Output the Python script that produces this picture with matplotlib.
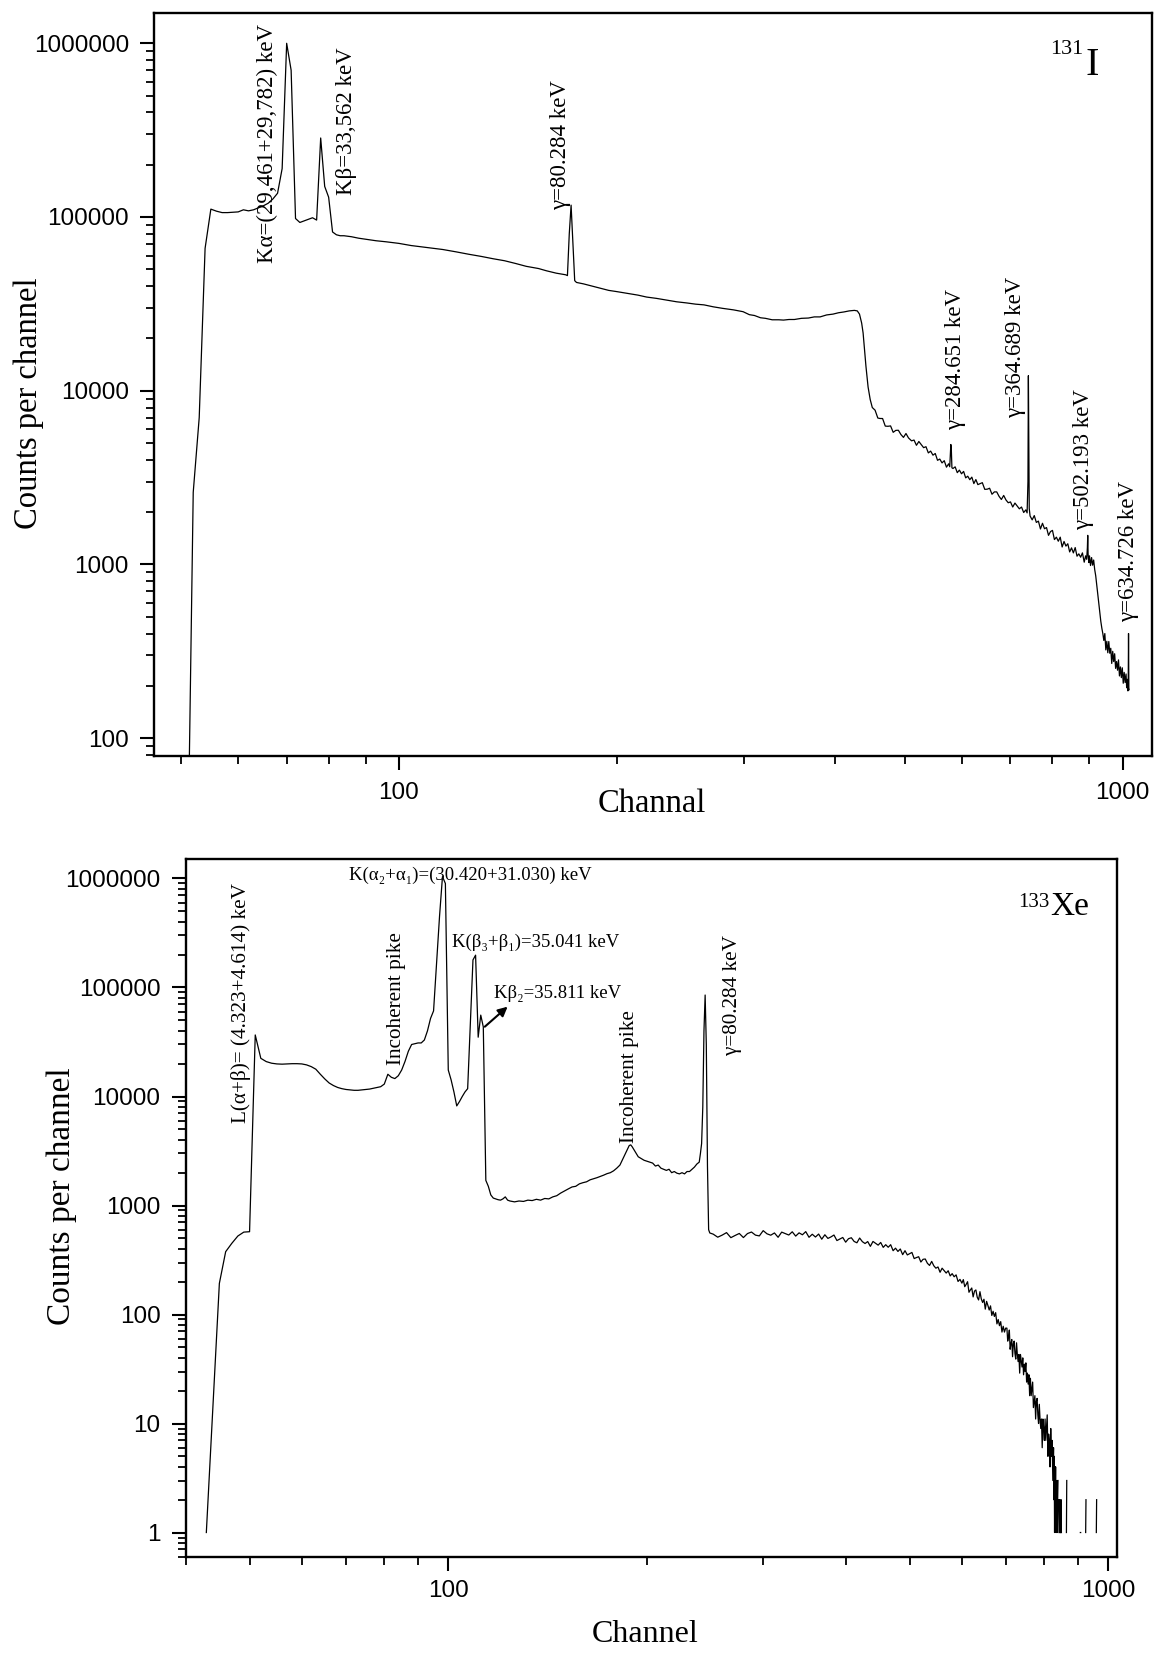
import numpy as np
import matplotlib
matplotlib.use("Agg")
import matplotlib.pyplot as plt
from matplotlib.ticker import LogLocator, FuncFormatter, NullFormatter, FixedLocator

# ---------------- data: 131I spectrum (top) ----------------
top_channel = [51, 52, 53, 54, 55, 56, 57, 58, 59, 60, 61, 62, 63, 64, 65, 66, 67, 68, 69, 70,
               71, 72, 73, 74, 75, 76, 77, 78, 79, 80, 81, 82, 83, 84, 86, 88, 90, 93, 96, 100,
               104, 110, 115, 120, 125, 130, 135, 140, 145, 150, 156, 160, 165, 170, 171, 172, 173, 174, 175, 176,
               180, 185, 190, 195, 200, 207, 214, 220, 227, 234, 242, 250, 257, 264, 272, 280, 290, 299, 305, 310,
               316, 321, 328, 335, 340, 346, 352, 360, 368, 375, 382, 390, 398, 405, 412, 419, 426, 430, 433, 436,
               438, 440, 442, 445, 448, 451, 455, 459, 462, 466, 470, 474, 478, 482, 486, 490, 494, 498, 502, 506,
               511, 515, 519, 523, 527, 531, 535, 539, 543, 547, 551, 555, 559, 563, 567, 571, 575, 577, 578, 579,
               580, 581, 583, 587, 591, 595, 599, 603, 607, 611, 615, 619, 623, 627, 631, 636, 640, 645, 650, 655,
               660, 665, 670, 675, 680, 685, 690, 695, 700, 705, 710, 715, 720, 725, 730, 735, 738, 740, 741, 742,
               743, 745, 750, 755, 760, 765, 770, 775, 780, 785, 790, 795, 800, 805, 810, 815, 820, 825, 830, 835,
               840, 845, 850, 855, 860, 865, 870, 875, 880, 885, 889, 892, 894, 895, 896, 898, 900, 903, 906, 909,
               912, 915, 918, 921, 924, 927, 930, 933, 936, 939, 942, 945, 948, 951, 954, 957, 960, 963, 966, 969,
               972, 975, 978, 981, 984, 987, 990, 993, 996, 999, 1002, 1005, 1008, 1011, 1013, 1015, 1017, 1018, 1019, 1020,
               1021]
top_counts = [10, 2600, 7000, 66000, 111000, 108000, 106000, 106000, 106500, 107000, 110000, 108500, 110000, 113000, 116000, 120000, 127000, 137000, 190000, 1000000,
              700000, 98000, 93000, 95000, 97000, 99000, 96000, 285000, 150000, 130000, 82000, 79000, 78000, 78000, 77000, 75500, 74500, 73000, 72000, 70500,
              68500, 66500, 65000, 63000, 61000, 59300, 57500, 56000, 54000, 52000, 50500, 49000, 47500, 46500, 46000, 80000, 117000, 70000, 43000, 42000,
              41200, 40000, 38900, 37800, 37200, 36300, 35500, 34600, 34000, 33300, 32500, 32000, 31500, 31200, 30400, 29800, 29200, 28500, 27400, 27100,
              26300, 26100, 25600, 25600, 25500, 25700, 25700, 26100, 26200, 26600, 26600, 27300, 27600, 28100, 28400, 28800, 29000, 28800, 27600, 24500,
              21500, 17200, 13800, 10500, 8900, 8000, 7725, 6960, 6920, 6915, 6255, 6240, 6270, 5760, 5910, 5920, 5595, 5385, 5670, 5350,
              5145, 5200, 4850, 5100, 4900, 4700, 4760, 4385, 4490, 4255, 4350, 3975, 4040, 3840, 3955, 3630, 3795, 3650, 4200, 4900,
              4500, 3600, 3565, 3645, 3375, 3490, 3325, 3430, 3150, 3220, 3075, 3180, 2920, 3080, 2880, 2920, 2955, 2705, 2710, 2745,
              2535, 2615, 2615, 2465, 2365, 2495, 2350, 2265, 2290, 2140, 2255, 2170, 2090, 2140, 1990, 2060, 1980, 3000, 12200, 5000,
              2100, 1900, 1805, 1910, 1745, 1775, 1600, 1725, 1605, 1630, 1470, 1545, 1570, 1390, 1435, 1360, 1435, 1260, 1355, 1275,
              1315, 1180, 1245, 1165, 1250, 1115, 1150, 1100, 1165, 1030, 1120, 1070, 1250, 1470, 1150, 1025, 1120, 985, 1095, 990,
              1060, 935, 860, 760, 680, 590, 520, 470, 430, 400, 365, 400, 322, 361, 310, 360, 308, 329, 269, 316,
              276, 306, 252, 276, 246, 282, 228, 257, 223, 254, 207, 239, 209, 234, 195, 218, 187, 200, 400, 195,
              190]

# ---------------- data: 133Xe spectrum (bottom) ----------------
bottom_channel = [43, 44, 45, 46, 47, 48, 49, 50, 51, 52, 53, 54, 55, 56, 57, 58, 59, 60, 61, 62,
                  63, 64, 65, 66, 67, 68, 69, 70, 71, 72, 73, 74, 75, 76, 77, 78, 79, 80, 81, 82,
                  83, 84, 85, 86, 87, 88, 89, 90, 91, 92, 93, 94, 95, 96, 97, 98, 99, 100, 101, 102,
                  103, 104, 105, 106, 107, 108, 109, 110, 111, 112, 113, 114, 115, 116, 117, 118, 119, 120, 121, 122,
                  123, 124, 126, 128, 130, 132, 134, 136, 138, 140, 142, 144, 146, 148, 150, 152, 154, 156, 158, 160,
                  162, 164, 166, 168, 170, 172, 174, 176, 178, 180, 182, 184, 186, 188, 189, 190, 192, 194, 196, 198,
                  200, 202, 204, 206, 208, 210, 212, 214, 216, 218, 220, 222, 224, 226, 228, 230, 232, 234, 236, 238,
                  240, 241, 242, 243, 244, 245, 246, 247, 248, 249,
                  252, 256, 260, 264, 268, 272, 276, 280, 284, 288, 292, 296, 300, 304, 308, 312, 316, 320, 324, 328,
                  332, 336, 340, 344, 348, 352, 356, 360, 364, 368, 372, 376, 380, 384, 388, 392, 396, 400, 404, 408,
                  412, 416, 420, 424, 428, 432, 436, 440, 444, 448, 452, 456, 460, 464, 468, 472, 476, 480, 484, 488,
                  492, 496, 500, 504, 508, 512, 516, 520, 524, 528, 532, 536, 540, 544, 548, 552, 556, 560, 564, 568,
                  572, 576, 580, 584, 588, 592, 596, 600, 603, 606, 609, 612, 615, 618, 621, 624, 627, 630, 633, 636,
                  639, 642, 645, 648, 651, 654, 657, 660, 663, 666, 669, 672, 675, 678, 681, 684, 687, 690, 693, 696,
                  699, 702, 704, 706, 708, 710, 712, 714, 716, 718, 720, 722, 724, 726, 728, 730, 732, 734, 736, 738,
                  740, 742, 744, 746, 748, 750, 752, 754, 756, 758, 760, 762, 764, 766, 768, 770, 772, 774, 776, 778,
                  780, 782, 784, 786, 788, 790, 792, 794, 796, 798, 800, 802, 804, 806, 808, 810, 812, 814, 816, 818,
                  820, 822, 824, 826, 827, 828, 829, 830, 831, 832, 833, 834, 835, 836, 837, 838, 839, 840, 841, 842,
                  843, 844, 845, 846, 847, 848, 849, 850, 864, 865, 866, 906, 907, 908, 909, 923, 924, 925, 926, 958,
                  959, 960, 961]
bottom_counts = [1, 14, 193, 377, 450, 525, 570, 575, 36700, 22400, 20900, 20200, 19900, 19800, 19900, 20000, 20000, 19900, 19500, 18800,
                 17800, 16000, 14500, 13300, 12600, 12100, 11800, 11600, 11500, 11400, 11400, 11500, 11600, 11700, 11900, 12100, 12300, 13000, 16000, 15000,
                 14600, 15500, 17500, 21000, 26000, 30000, 30500, 31000, 31000, 33000, 40000, 52000, 61000, 166000, 450000, 1040000, 900000, 17500, 14200, 11000,
                 8200, 9000, 10000, 11000, 11800, 47000, 179000, 198000, 35000, 55800, 43500, 1700, 1500, 1250, 1170, 1150, 1130, 1120, 1150, 1200,
                 1120, 1100, 1080, 1100, 1090, 1120, 1110, 1140, 1120, 1160, 1150, 1200, 1230, 1300, 1360, 1420, 1480, 1500, 1580, 1620,
                 1650, 1720, 1760, 1800, 1850, 1900, 1960, 2000, 2080, 2200, 2350, 2700, 3100, 3550, 3600, 3450, 3100, 2800, 2700, 2600,
                 2550, 2500, 2450, 2300, 2350, 2200, 2150, 2100, 2150, 2000, 2050, 1980, 1950, 2000, 1950, 2050, 2050, 2150, 2250, 2400,
                 2500, 3000, 3700, 8000, 40000, 85300, 30000, 2300, 600, 560,
                 546, 512, 535, 564, 507, 531, 554, 508, 553, 571, 535, 526, 588, 550, 534, 560, 511, 570, 553, 536,
                 574, 524, 561, 539, 576, 511, 545, 514, 547, 491, 539, 499, 515, 536, 477, 493, 509, 461, 496, 506,
                 468, 455, 503, 466, 448, 467, 422, 468, 450, 433, 458, 413, 437, 414, 437, 385, 406, 379, 399, 354,
                 385, 352, 361, 371, 326, 333, 339, 303, 321, 323, 295, 282, 307, 280, 266, 273, 244, 266, 253, 240,
                 252, 226, 237, 222, 231, 201, 210, 194, 209, 180, 189, 200, 160, 168, 175, 145, 164, 168, 144, 136,
                 162, 139, 129, 138, 112, 132, 121, 110, 120, 98, 107, 96, 104, 82, 90, 79, 86, 69, 78, 69,
                 75, 75, 57, 63, 72, 48, 54, 59, 41, 54, 57, 44, 39, 55, 43, 37, 43, 29, 43, 38,
                 33, 40, 28, 35, 30, 36, 24, 29, 23, 28, 18, 26, 18, 21, 24, 14, 16, 18, 11, 16,
                 17, 12, 10, 15, 11, 9, 11, 6, 11, 9, 7, 11, 7, 9, 12, 5, 8, 7, 4, 9,
                 5, 7, 3, 6, 2, 5, 1, 4, 2, 4, 1, 3, 1, 3, 1, 2, 3, 0, 2, 1,
                 0, 2, 1, 0, 1, 2, 1, 0, 1, 3, 0, 0, 1, 1, 0, 0, 1, 2, 0, 0,
                 1, 2, 0]

top_ticks_y = [100, 1000, 10000, 100000, 1000000]
bottom_ticks_y = [1, 10, 100, 1000, 10000, 100000, 1000000]
x_ticks = [100, 1000]

SERIF = ['Liberation Serif', 'DejaVu Serif']
SANS = ['Liberation Sans', 'DejaVu Sans']

plt.rcParams['font.family'] = SANS

W, H = 1155, 1655
fig = plt.figure(figsize=(W / 100, H / 100), dpi=100)


def px_axes(left, top, right, bottom):
    return fig.add_axes([left / W, 1 - bottom / H, (right - left) / W, (bottom - top) / H])


def style_axes(ax, yticks, tick_pad_x, tick_pad_y):
    ax.set_xscale('log')
    ax.set_yscale('log', nonpositive='mask')
    ax.xaxis.set_major_locator(FixedLocator(x_ticks))
    ax.xaxis.set_minor_locator(LogLocator(base=10, subs=np.arange(2, 10), numticks=100))
    ax.yaxis.set_major_locator(FixedLocator(yticks))
    ax.yaxis.set_minor_locator(LogLocator(base=10, subs=np.arange(2, 10), numticks=100))
    fmt = FuncFormatter(lambda v, p: f'{v:.0f}')
    ax.xaxis.set_major_formatter(fmt)
    ax.yaxis.set_major_formatter(fmt)
    ax.xaxis.set_minor_formatter(NullFormatter())
    ax.yaxis.set_minor_formatter(NullFormatter())
    for s in ax.spines.values():
        s.set_linewidth(1.7)
    ax.tick_params(which='major', direction='out', length=10, width=1.5, labelsize=17.5)
    ax.tick_params(which='minor', direction='out', length=5.5, width=1.3)
    ax.tick_params(axis='x', which='major', pad=tick_pad_x)
    ax.tick_params(axis='y', which='major', pad=tick_pad_y)
    for lab in ax.get_xticklabels() + ax.get_yticklabels():
        lab.set_family(SANS)


# ---------------- top panel ----------------
ax1 = px_axes(154, 12.7, 1152, 756)
ax1.plot(top_channel, top_counts, color='black', lw=0.9)
style_axes(ax1, top_ticks_y, 9, 8)
ax1.set_xlim(45.9, 1098)
ax1.set_ylim(78.9, 1.5e6)

ann_kw = dict(rotation=90, ha='center', va='bottom', family=SERIF, fontsize=16.5)
ax1.text(65.8, 54300, 'Kα=(29,461+29,782) keV', **ann_kw)
ax1.text(84.8, 134000, 'Kβ=33,562 keV', **ann_kw)
ax1.text(167.3, 109700, 'γ=80.284 keV', **ann_kw)
ax1.text(588.5, 5950, 'γ=284.651 keV', **ann_kw)
ax1.text(712, 6940, 'γ=364.689 keV', **ann_kw)
ax1.text(883, 1580, 'γ=502.193 keV', **ann_kw)
ax1.text(1019, 468, 'γ=634.726 keV', **ann_kw)

ax1.text(0.933, 0.916, 'I', transform=ax1.transAxes, ha='left', va='baseline',
         family=SERIF, fontsize=29)
ax1.text(0.931, 0.945, '131', transform=ax1.transAxes, ha='right', va='baseline',
         family=SERIF, fontsize=16)

fig.text(28.5 / W, 1 - 403 / H, 'Counts per channel', rotation=90, ha='center', va='center',
         family=SERIF, fontsize=23.5)
fig.text(652 / W, 1 - 804 / H, 'Channal', ha='center', va='center', family=SERIF, fontsize=23.5)

# ---------------- bottom panel ----------------
ax2 = px_axes(185.6, 859.3, 1117.3, 1556.7)
ax2.plot(bottom_channel, bottom_counts, color='black', lw=0.9)
style_axes(ax2, bottom_ticks_y, 7, 8)
ax2.set_xlim(40, 1031.8)
ax2.set_ylim(0.6, 1.5e6)

ann2 = dict(rotation=90, ha='center', va='bottom', family=SERIF, fontsize=15.3)
ax2.text(48.5, 5680, 'L(α+β)= (4.323+4.614) keV', **ann2)
ax2.text(83.6, 19450, 'Incoherent pike', **ann2)
ax2.text(188.1, 3720, 'Incoherent pike', **ann2)
ax2.text(269.8, 24000, 'γ=80.284 keV', **ann2)

hor = dict(ha='left', va='baseline', family=SERIF, fontsize=13.5)
ax2.text(70.7, 9.6e5, 'K(α₂+α₁)=(30.420+31.030) keV', **hor)
ax2.text(101.4, 2.37e5, 'K(β₃+β₁)=35.041 keV', **hor)
ax2.text(117.5, 7.96e4, 'Kβ₂=35.811 keV', **hor)
ax2.annotate('', xy=(123, 66700), xytext=(113.6, 43700),
             arrowprops=dict(arrowstyle='-|>', color='black', lw=1.5, mutation_scale=14,
                             shrinkA=0, shrinkB=0))

ax2.text(0.928, 0.920, 'Xe', transform=ax2.transAxes, ha='left', va='baseline',
         family=SERIF, fontsize=24)
ax2.text(0.927, 0.9315, '133', transform=ax2.transAxes, ha='right', va='baseline',
         family=SERIF, fontsize=15)

fig.text(62 / W, 1 - 1196 / H, 'Counts per channel', rotation=90, ha='center', va='center',
         family=SERIF, fontsize=24)
fig.text(645 / W, 1 - 1634 / H, 'Channel', ha='center', va='center', family=SERIF, fontsize=23)

fig.savefig('out.png', dpi=100)
